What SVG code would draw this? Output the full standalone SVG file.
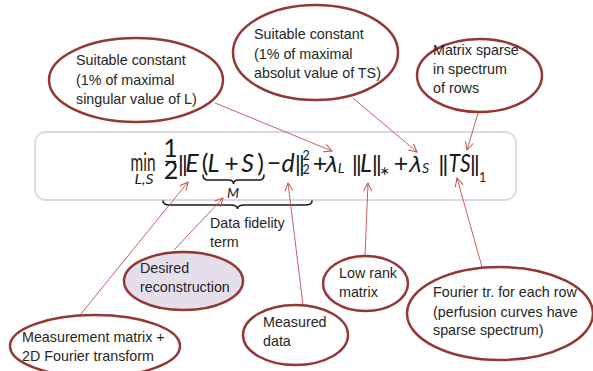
<svg xmlns="http://www.w3.org/2000/svg" width="593" height="371" viewBox="0 0 593 371">
  <style>
    .bubble { fill: #ffffff; stroke: #953735; stroke-width: 2.5; }
    .bubble.hl { fill: #e5dfec; }
    .lbl { font-family: "Liberation Sans", Arial, sans-serif; font-size: 14.3px; fill: #262626; }
    .m { font-family: Lato, "DejaVu Sans", sans-serif; font-size: 25px; fill: #1a1a1a; text-anchor: middle; }
    .mi { font-style: italic; }
    .gk { font-family: "DejaVu Sans", sans-serif; font-size: 22px; }
    .sm { font-size: 14px; }
    .xs { font-size: 12.5px; }
    .bar { font-family: "Liberation Sans", Arial, sans-serif; font-size: 22px; letter-spacing: -1.6px; fill: #1a1a1a; text-anchor: middle; }
    .brace { fill: none; stroke: #1a1a1a; stroke-width: 1.6; stroke-linecap: round; }
    .conn { fill: none; stroke: #c0504d; stroke-width: 0.9; marker-end: url(#arr); }
  </style>
  <defs>
    <marker id="arr" markerWidth="10" markerHeight="10" refX="9" refY="5" orient="auto" markerUnits="userSpaceOnUse">
      <path d="M1,1 L9,5 L1,9" fill="none" stroke="#c0504d" stroke-width="1"/>
    </marker>
  </defs>

  <rect width="593" height="371" fill="#ffffff"/>

  <!-- formula panel -->
  <g id="formula">
    <rect x="35" y="132" width="481" height="68" rx="11" fill="#ffffff" stroke="#dcd8ea" stroke-width="1.8"/>
    <text class="m" x="143" y="171" font-size="19" textLength="25" lengthAdjust="spacingAndGlyphs">min</text>
    <text class="m mi sm" x="144" y="184" font-size="12.5" textLength="19" lengthAdjust="spacingAndGlyphs">L,S</text>
    <text class="m" x="170.5" y="157" font-size="18">1</text>
    <line x1="165" y1="161.5" x2="176" y2="161.5" stroke="#1a1a1a" stroke-width="1.2"/>
    <text class="m" x="171" y="179" font-size="18">2</text>
    <text class="bar" x="182" y="171">||</text>
    <text class="m mi" x="192" y="172">E</text>
    <text class="m" x="205" y="172">(</text>
    <text class="m mi" x="213.5" y="172">L</text>
    <text class="m" x="231.5" y="172">+</text>
    <text class="m mi" x="247.5" y="172">S</text>
    <text class="m" x="260.5" y="172">)</text>
    <path class="brace" d="M203,175 Q203,180 208,180 L228.5,180 Q233.5,180 233.5,184 Q233.5,180 238.5,180 L259,180 Q264,180 264,175"/>
    <text class="m mi sm" x="233" y="198">M</text>
    <text class="m" x="274" y="172">−</text>
    <text class="m mi" x="288" y="172">d</text>
    <text class="bar" x="299" y="171">||</text>
    <text class="m xs" x="306" y="160">2</text>
    <text class="m xs" x="306" y="174">2</text>
    <text class="m" x="320" y="172">+</text>
    <text class="m mi gk" x="332" y="172">λ</text>
    <text class="m mi sm" x="341" y="173">L</text>
    <text class="bar" x="356" y="171">||</text>
    <text class="m mi" x="366" y="172">L</text>
    <text class="bar" x="376" y="171">||</text>
    <text class="m xs" x="384.5" y="175">∗</text>
    <text class="m" x="401" y="172">+</text>
    <text class="m mi gk" x="416" y="172">λ</text>
    <text class="m mi sm" x="425.5" y="173">S</text>
    <text class="bar" x="442.5" y="171">||</text>
    <text class="m mi" x="459.5" y="172" textLength="22" lengthAdjust="spacingAndGlyphs">TS</text>
    <text class="bar" x="474" y="171">||</text>
    <text class="m xs" x="482.5" y="182">1</text>
    <path class="brace" d="M163,201 Q163,205 170,205 L230.5,205 Q237.5,205 237.5,209 Q237.5,205 244.5,205 L305,205 Q312,205 312,201"/>
  </g>

  <g id="fidelity-label">
    <text class="lbl" x="210" y="228">Data fidelity</text>
    <text class="lbl" x="210" y="247">term</text>
  </g>

  <!-- connectors -->
  <g id="connectors">
    <line class="conn" x1="215" y1="103" x2="332" y2="151"/>
    <line class="conn" x1="353" y1="98" x2="417" y2="152"/>
    <line class="conn" x1="478" y1="113" x2="467" y2="150"/>
    <line class="conn" x1="80" y1="315" x2="188" y2="182"/>
    <line class="conn" x1="174" y1="250" x2="223" y2="198"/>
    <line class="conn" x1="303" y1="305" x2="288" y2="183"/>
    <line class="conn" x1="365" y1="256" x2="368" y2="183"/>
    <line class="conn" x1="482" y1="267" x2="457" y2="178"/>
  </g>

  <g id="lambda-l-note">
    <ellipse class="bubble" cx="136" cy="80" rx="87" ry="42"/>
    <text class="lbl" x="76" y="65">Suitable constant</text>
    <text class="lbl" x="76" y="85">(1% of maximal</text>
    <text class="lbl" x="76" y="104">singular  value of L)</text>
  </g>

  <g id="lambda-s-note">
    <ellipse class="bubble" cx="315.5" cy="52.5" rx="82.5" ry="47.5"/>
    <text class="lbl" x="254" y="39">Suitable constant</text>
    <text class="lbl" x="254" y="59">(1% of maximal</text>
    <text class="lbl" x="254" y="78">absolut value  of TS)</text>
  </g>

  <g id="sparse-note">
    <ellipse class="bubble" cx="479.5" cy="75.5" rx="62.5" ry="36.5"/>
    <text class="lbl" x="433" y="55">Matrix sparse</text>
    <text class="lbl" x="433" y="74">in spectrum</text>
    <text class="lbl" x="433" y="93">of rows</text>
  </g>

  <g id="reconstruction-note">
    <ellipse class="bubble hl" cx="183.5" cy="281" rx="59.5" ry="29"/>
    <text class="lbl" x="140" y="273">Desired</text>
    <text class="lbl" x="140" y="292">reconstruction</text>
  </g>

  <g id="measurement-note">
    <ellipse class="bubble" cx="95" cy="346" rx="85" ry="31"/>
    <text class="lbl" x="22" y="342">Measurement matrix +</text>
    <text class="lbl" x="22" y="361">2D Fourier transform</text>
  </g>

  <g id="data-note">
    <ellipse class="bubble" cx="295.5" cy="335" rx="52.5" ry="30"/>
    <text class="lbl" x="263" y="327">Measured</text>
    <text class="lbl" x="263" y="346">data</text>
  </g>

  <g id="lowrank-note">
    <ellipse class="bubble" cx="365.5" cy="283.5" rx="42.5" ry="27.5"/>
    <text class="lbl" x="339" y="278">Low rank</text>
    <text class="lbl" x="339" y="297">matrix</text>
  </g>

  <g id="fourier-note">
    <ellipse class="bubble" cx="500" cy="313.5" rx="93" ry="46.5"/>
    <text class="lbl" x="433" y="297">Fourier tr. for each row</text>
    <text class="lbl" x="433" y="317">(perfusion curves have</text>
    <text class="lbl" x="433" y="335">sparse spectrum)</text>
  </g>
</svg>
